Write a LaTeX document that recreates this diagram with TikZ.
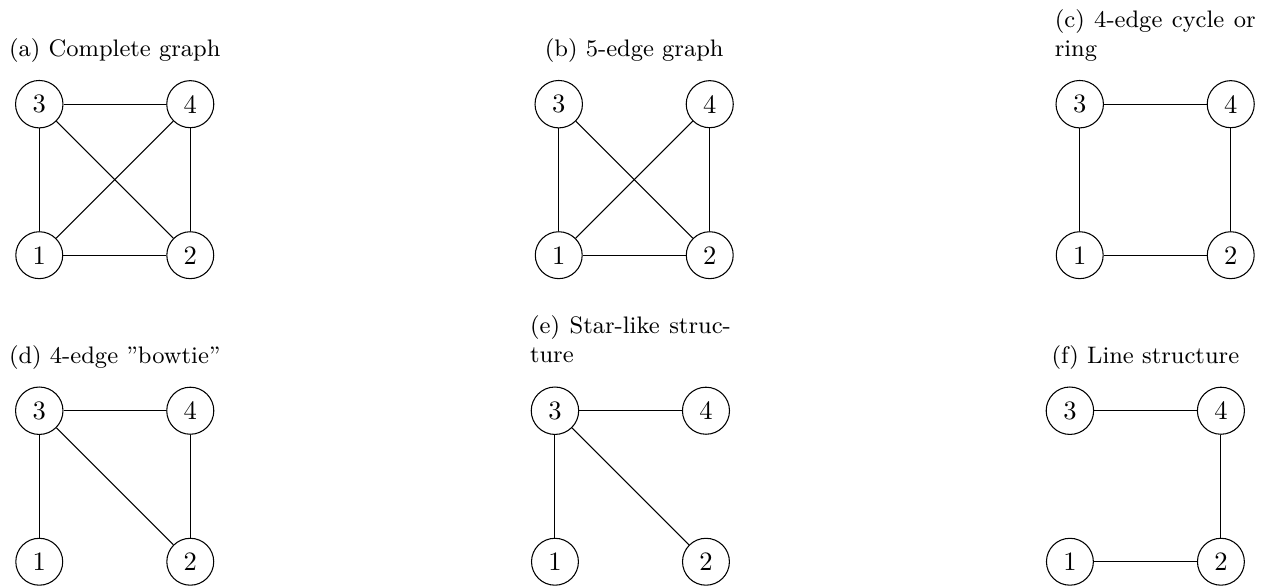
\documentclass[tikz,border=0pt]{standalone}
\usepackage{tikz}

\begin{document}
\begin{tikzpicture}[vertex/.style={draw, circle},
    subcap/.style={font=\small, anchor=base},
    longcap/.style={subcap, text width=2.66cm, align=justify}]
  \useasboundingbox (0,0) rectangle (16.82,7.75);
  % (a) all six edges
  \begin{scope}[shift={(0.52,4.37)}]
    \node[vertex] (a1) at (0,0) {1};
    \node[vertex] (a2) at (2,0) {2};
    \node[vertex] (a3) at (0,2) {3};
    \node[vertex] (a4) at (2,2) {4};
    \node[subcap] (acap) at (1,2.63) {(a) Complete graph};
    \foreach \u/\v in {3/4, 3/1, 3/2, 4/1, 4/2, 1/2}
      \draw (a\u) -- (a\v);
  \end{scope}
  % (b) drop the top edge
  \begin{scope}[shift={(7.40,4.37)}]
    \node[vertex] (b1) at (0,0) {1};
    \node[vertex] (b2) at (2,0) {2};
    \node[vertex] (b3) at (0,2) {3};
    \node[vertex] (b4) at (2,2) {4};
    \node[subcap] (bcap) at (1,2.63) {(b) 5-edge graph};
    \foreach \u/\v in {3/1, 3/2, 4/1, 4/2, 1/2}
      \draw (b\u) -- (b\v);
  \end{scope}
  % (c) square
  \begin{scope}[shift={(14.30,4.37)}]
    \node[vertex] (c1) at (0,0) {1};
    \node[vertex] (c2) at (2,0) {2};
    \node[vertex] (c3) at (0,2) {3};
    \node[vertex] (c4) at (2,2) {4};
    \node[longcap] (ccap) at (1,3.02) {(c) 4-edge cycle or\linebreak ring};
    \foreach \u/\v in {3/4, 3/1, 4/2, 1/2}
      \draw (c\u) -- (c\v);
  \end{scope}
  % (d) triangle 3-4-2 plus 3-1
  \begin{scope}[shift={(0.52,0.31)}]
    \node[vertex] (d1) at (0,0) {1};
    \node[vertex] (d2) at (2,0) {2};
    \node[vertex] (d3) at (0,2) {3};
    \node[vertex] (d4) at (2,2) {4};
    \node[subcap] (dcap) at (1,2.63) {(d) 4-edge ”bowtie”};
    \foreach \u/\v in {3/4, 3/1, 3/2, 4/2}
      \draw (d\u) -- (d\v);
  \end{scope}
  % (e) everything hangs off 3
  \begin{scope}[shift={(7.35,0.31)}]
    \node[vertex] (e1) at (0,0) {1};
    \node[vertex] (e2) at (2,0) {2};
    \node[vertex] (e3) at (0,2) {3};
    \node[vertex] (e4) at (2,2) {4};
    \node[longcap] (ecap) at (1,3.02) {(e) Star-like struc-\linebreak ture};
    \foreach \u/\v in {3/4, 3/1, 3/2}
      \draw (e\u) -- (e\v);
  \end{scope}
  % (f) path 3-4-2-1
  \begin{scope}[shift={(14.17,0.31)}]
    \node[vertex] (f1) at (0,0) {1};
    \node[vertex] (f2) at (2,0) {2};
    \node[vertex] (f3) at (0,2) {3};
    \node[vertex] (f4) at (2,2) {4};
    \node[subcap] (fcap) at (1,2.63) {(f) Line structure};
    \foreach \u/\v in {3/4, 4/2, 1/2}
      \draw (f\u) -- (f\v);
  \end{scope}
\end{tikzpicture}
\end{document}
